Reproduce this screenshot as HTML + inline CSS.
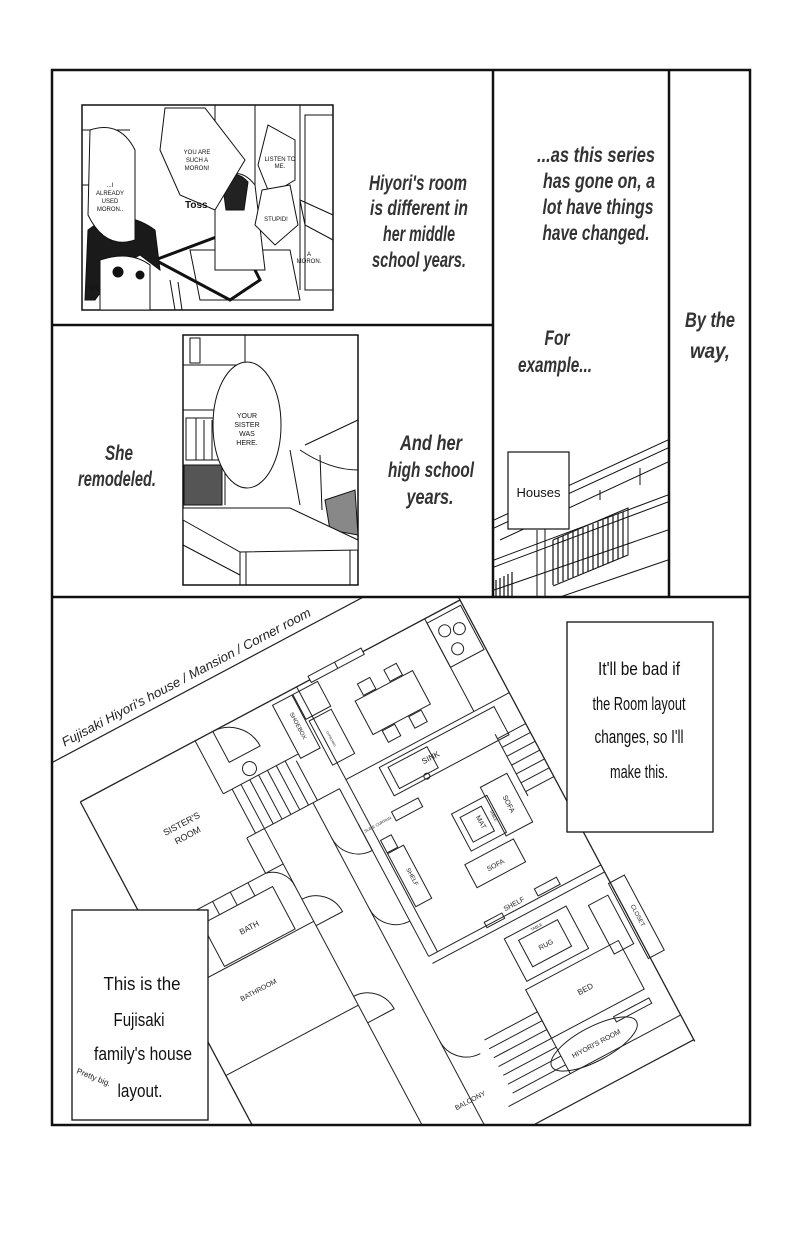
<!DOCTYPE html>
<html><head><meta charset="utf-8"><style>
html,body{margin:0;padding:0;background:#fff;width:800px;height:1243px;overflow:hidden}
svg{display:block}
.t{font-family:"Liberation Sans",sans-serif;font-style:italic;font-weight:bold;font-size:21px;fill:#333}
.h{font-family:"Liberation Sans",sans-serif;font-size:18px;fill:#111}
.s{font-family:"Liberation Sans",sans-serif;font-size:6px;fill:#111}
.p{font-family:"Liberation Sans",sans-serif;font-size:8px;fill:#222}
</style></head><body>
<svg width="800" height="1243" viewBox="0 0 800 1243" xmlns="http://www.w3.org/2000/svg">
<defs>
<clipPath id="bp"><rect x="53" y="598" width="696" height="526"/></clipPath>
<clipPath id="hp"><rect x="494" y="430" width="174" height="166"/></clipPath>
</defs>
<rect width="800" height="1243" fill="#fff"/>

<g stroke="#111" fill="none" stroke-width="1">
<rect x="82" y="105" width="251" height="205" stroke-width="1.5"/>
<line x1="82" y1="130" x2="130" y2="130"/>
<line x1="215" y1="105" x2="215" y2="250"/>
<line x1="255" y1="105" x2="255" y2="230"/>
<line x1="300" y1="105" x2="300" y2="290"/>
<rect x="305" y="115" width="28" height="175"/>
<line x1="82" y1="185" x2="130" y2="185"/>
<path d="M300 200 L333 215 L333 240 L305 225 Z"/>
<path d="M190 250 L290 250 L300 300 L200 300 Z"/>
<path d="M155 260 L235 230 L260 280 L230 300 Z" stroke-width="3"/>
<path d="M215 190 Q235 160 255 185 L265 270 L215 270 Z" fill="#fff"/>
<path d="M222 180 Q235 168 248 182 L244 210 L226 210 Z" fill="#222"/>
<path d="M88 230 Q120 205 155 230 L160 270 L140 255 L120 265 L95 300 L85 300 Z" fill="#1a1a1a"/>
<path d="M100 260 Q130 250 150 265 L150 310 L100 310 Z" fill="#fff"/>
<circle cx="118" cy="272" r="5" fill="#111"/>
<circle cx="140" cy="275" r="4" fill="#111"/>
<line x1="170" y1="280" x2="175" y2="310"/><line x1="178" y1="282" x2="182" y2="310"/>
<path d="M90 130 Q120 120 135 150 L135 240 Q105 250 88 215 Z" fill="#fff"/>
<path d="M165 108 L205 108 L245 160 L215 210 L180 195 L160 150 Z" fill="#fff"/>
<path d="M268 125 L295 140 L295 180 L270 195 L258 165 Z" fill="#fff"/>
<path d="M262 190 L290 185 L298 225 L275 245 L255 225 Z" fill="#fff"/>
</g>
<g class="s" text-anchor="middle">
<text x="197" y="154">YOU ARE</text><text x="197" y="162">SUCH A</text><text x="197" y="170">MORON!</text>
<text x="110" y="187">...I</text><text x="110" y="195">ALREADY</text><text x="110" y="203">USED</text><text x="110" y="211">MORON..</text>
<text x="280" y="161">LISTEN TO</text><text x="280" y="168">ME.</text>
<text x="276" y="221">STUPID!</text>
<text x="309" y="256">A</text><text x="309" y="263">MORON.</text>
<text x="95" y="290">OH..</text>
</g>
<text x="185" y="208" font-family="Liberation Sans,sans-serif" font-weight="bold" font-size="10" fill="#111">Toss</text>

<g stroke="#111" fill="none" stroke-width="1">
<rect x="183" y="335" width="175" height="250" stroke-width="1.5"/>
<line x1="183" y1="365" x2="245" y2="365"/><line x1="245" y1="335" x2="245" y2="365"/>
<rect x="190" y="338" width="10" height="25"/>
<line x1="183" y1="410" x2="225" y2="410"/>
<rect x="186" y="418" width="38" height="42"/>
<line x1="196" y1="418" x2="196" y2="460"/><line x1="204" y1="420" x2="204" y2="460"/><line x1="212" y1="420" x2="212" y2="460"/>
<rect x="184" y="465" width="38" height="40" fill="#555"/>
<line x1="225" y1="410" x2="225" y2="505"/>
<path d="M305 445 L358 420 M300 450 Q330 470 358 470 M290 450 L300 505 M320 455 L322 510"/>
<path d="M325 500 L355 490 L358 535 L330 530 Z" fill="#888"/>
<path d="M183 508 L290 508 L358 540 L358 550 L240 552 L183 520 Z" fill="#fff"/>
<line x1="240" y1="552" x2="240" y2="585"/><line x1="246" y1="552" x2="246" y2="585"/>
<line x1="350" y1="550" x2="350" y2="585"/>
<line x1="183" y1="545" x2="240" y2="575"/>
<ellipse cx="247" cy="425" rx="34" ry="63" fill="#fff"/>
</g>
<g class="s" text-anchor="middle" style="font-size:7px">
<text x="247" y="418">YOUR</text><text x="247" y="427">SISTER</text><text x="247" y="436">WAS</text><text x="247" y="445">HERE.</text>
</g>

<g clip-path="url(#hp)" stroke="#111" fill="none" stroke-width="1">
<path d="M494 520 L668 440 M494 528 L668 448 M500 540 L668 462"/>
<path d="M494 560 L668 495 M494 567 L668 502"/>
<path d="M494 590 L668 530 M560 597 L668 560"/>
<path d="M545 515 L545 597 M600 490 L600 500 M640 468 L640 485"/>
<g stroke-width="1.2">
<path d="M553 540 L553 585 M558 538 L558 583 M563 536 L563 581 M568 534 L568 579 M573 532 L573 577 M578 530 L578 575 M583 528 L583 573 M588 526 L588 571 M593 524 L593 569 M598 522 L598 567 M603 520 L603 565 M608 518 L608 563 M613 516 L613 561 M618 514 L618 559 M623 512 L623 557"/>
<path d="M496 580 L496 597 M500 578 L500 597 M504 576 L504 597 M508 574 L508 597 M512 572 L512 597"/>
</g>
<path d="M553 540 L628 508 L628 555 L553 586"/>
</g>
<line x1="537" y1="530" x2="537" y2="597" stroke="#111"/>
<rect x="508" y="452" width="61" height="77" fill="#fff" stroke="#111" stroke-width="1.2"/>
<text x="538.5" y="497" text-anchor="middle" class="h" style="font-size:13px">Houses</text>

<g class="t" text-anchor="middle">
<text x="418" y="190" textLength="98" lengthAdjust="spacingAndGlyphs">Hiyori's room</text>
<text x="419" y="215" textLength="98" lengthAdjust="spacingAndGlyphs">is different in</text>
<text x="419" y="241" textLength="72" lengthAdjust="spacingAndGlyphs">her middle</text>
<text x="419" y="267" textLength="94" lengthAdjust="spacingAndGlyphs">school years.</text>
<text x="596" y="162" textLength="118" lengthAdjust="spacingAndGlyphs">...as this series</text>
<text x="599" y="188" textLength="112" lengthAdjust="spacingAndGlyphs">has gone on, a</text>
<text x="598" y="214" textLength="111" lengthAdjust="spacingAndGlyphs">lot have things</text>
<text x="596" y="240" textLength="107" lengthAdjust="spacingAndGlyphs">have changed.</text>
<text x="557" y="345" textLength="25" lengthAdjust="spacingAndGlyphs">For</text>
<text x="555" y="372" textLength="74" lengthAdjust="spacingAndGlyphs">example...</text>
<text x="710" y="327" textLength="50" lengthAdjust="spacingAndGlyphs">By the</text>
<text x="710" y="358" textLength="40" lengthAdjust="spacingAndGlyphs">way,</text>
<text x="119" y="460" textLength="28" lengthAdjust="spacingAndGlyphs">She</text>
<text x="117" y="486" textLength="78" lengthAdjust="spacingAndGlyphs">remodeled.</text>
<text x="431" y="450" textLength="62" lengthAdjust="spacingAndGlyphs">And her</text>
<text x="431" y="477" textLength="86" lengthAdjust="spacingAndGlyphs">high school</text>
<text x="430" y="504" textLength="47" lengthAdjust="spacingAndGlyphs">years.</text>
</g>

<g clip-path="url(#bp)">
<g transform="translate(460,600) rotate(-28)" stroke="#222" fill="none" stroke-width="1">
<line x1="-470" y1="-48" x2="0" y2="-48" stroke-width="1.2"/>
<line x1="-430" y1="0" x2="0" y2="0" stroke-width="1.3"/>
<line x1="0" y1="-20" x2="0" y2="500" stroke-width="1.3"/>
<line x1="-430" y1="0" x2="-430" y2="600" stroke-width="1.3"/>
<line x1="0" y1="498" x2="-450" y2="498" stroke-width="1.2"/>
<rect x="-170" y="-4" width="60" height="7" fill="#fff"/>
<line x1="-140" y1="-4" x2="-140" y2="3"/>
<line x1="-40" y1="0" x2="-40" y2="105"/>
<rect x="-40" y="5" width="38" height="50"/>
<circle cx="-28" cy="20" r="6"/><circle cx="-14" cy="25" r="6"/><circle cx="-25" cy="42" r="6"/>
<rect x="-140" y="40" width="65" height="38"/>
<rect x="-130" y="26" width="14" height="13"/><rect x="-100" y="26" width="14" height="13"/>
<rect x="-130" y="79" width="14" height="13"/><rect x="-100" y="79" width="14" height="13"/>
<line x1="-185" y1="105" x2="0" y2="105"/>
<rect x="-150" y="110" width="130" height="32"/>
<rect x="-142" y="114" width="44" height="24"/>
<circle cx="-112" cy="140" r="3"/>
<line x1="-185" y1="0" x2="-185" y2="300"/>
<line x1="-195" y1="110" x2="-195" y2="300"/>
<rect x="-215" y="5" width="22" height="60"/>
<rect x="-192" y="5" width="28" height="28"/>
<rect x="-190" y="36" width="25" height="50"/>
<line x1="-300" y1="110" x2="-195" y2="110"/>
<path d="M-290 60 L-290 110 M-280 60 L-280 110 M-270 60 L-270 110 M-260 60 L-260 110 M-250 60 L-250 110 M-240 60 L-240 110 M-230 60 L-230 110 M-220 65 L-220 110"/>
<line x1="-300" y1="60" x2="-215" y2="60"/>
<path d="M-280 0 A35 35 0 0 1 -245 35 L-280 35 Z"/>
<circle cx="-265" cy="50" r="7"/>
<line x1="-300" y1="0" x2="-300" y2="60"/>
<line x1="-280" y1="110" x2="-280" y2="520"/>
<line x1="-225" y1="110" x2="-225" y2="520"/>
<path d="M-225 150 A30 30 0 0 0 -195 180 L-195 150"/>
<path d="M-280 190 A30 30 0 0 1 -250 220 L-280 220"/>
<path d="M-225 230 A30 30 0 0 0 -195 260"/>
<path d="M-280 300 A30 30 0 0 1 -250 330 L-280 330"/>
<path d="M-225 380 A30 30 0 0 0 -195 410"/>
<line x1="-430" y1="150" x2="-280" y2="150"/>
<line x1="-300" y1="110" x2="-300" y2="150"/>
<path d="M-380 150 L-380 165 M-360 150 L-360 165 M-340 150 L-340 165 M-320 150 L-320 165"/>
<path d="M-300 150 A25 25 0 0 1 -280 175"/>
<rect x="-380" y="165" width="80" height="48"/>
<line x1="-430" y1="215" x2="-280" y2="215"/>
<line x1="-430" y1="310" x2="-280" y2="310"/>
<line x1="-195" y1="300" x2="0" y2="300"/>
<line x1="-195" y1="308" x2="0" y2="308"/>
<rect x="-130" y="296" width="20" height="6"/>
<rect x="-70" y="290" width="25" height="8"/>
<rect x="-70" y="175" width="30" height="55"/>
<rect x="-108" y="185" width="40" height="42"/>
<rect x="-102" y="192" width="24" height="28"/>
<rect x="-120" y="236" width="55" height="26"/>
<rect x="-183" y="190" width="18" height="60"/>
<rect x="-183" y="175" width="12" height="14"/>
<path d="M-32 140 L0 140 M-32 150 L0 150 M-32 160 L0 160 M-32 170 L0 170 M-32 180 L0 180 M-32 190 L0 190 M-32 200 L0 200"/>
<line x1="-32" y1="135" x2="-32" y2="205"/>
<rect x="-160" y="155" width="30" height="10"/>
<rect x="-120" y="320" width="70" height="48"/>
<rect x="-108" y="328" width="44" height="30"/>
<rect x="-125" y="375" width="105" height="55"/>
<rect x="-30" y="330" width="22" height="55"/>
<rect x="-2" y="320" width="18" height="85"/>
<path d="M-185 400 L-125 400 M-185 410 L-125 410 M-185 420 L-125 420 M-185 430 L-125 430 M-185 440 L-125 440 M-185 450 L-125 450 M-185 460 L-125 460"/>
<line x1="-125" y1="395" x2="-125" y2="470"/>
<line x1="-195" y1="470" x2="0" y2="470"/>
<path d="M-60 440 L-20 440 L-20 446 L-60 446 Z"/>
<ellipse cx="-90" cy="455" rx="48" ry="17"/>
</g>
<g transform="translate(460,600) rotate(-28)" font-family="Liberation Sans,sans-serif" fill="#222" text-anchor="middle">
<text x="-418" y="-56" font-size="13" font-style="italic" text-anchor="start" textLength="280" lengthAdjust="spacingAndGlyphs">Fujisaki Hiyori's house / Mansion / Corner room</text>
<text x="-351" y="70" font-size="9">SISTER'S</text>
<text x="-351" y="83" font-size="9">ROOM</text>
<text x="-340" y="193" font-size="8">BATH</text>
<text x="-361" y="252" font-size="7">BATHROOM</text>
<text x="-226" y="449" font-size="7">BALCONY</text>
<text x="-88" y="458" font-size="7">HIYORI'S ROOM</text>
<text x="-72" y="405" font-size="8">BED</text>
<text x="-86" y="347" font-size="7">RUG</text>
<text x="-86" y="326" font-size="4">TABLE</text>
<text x="-95" y="296" font-size="7">SHELF</text>
<text x="-100" y="128" font-size="8">SINK</text>
<text x="-93" y="253" font-size="7">SOFA</text>
<text x="-178" y="161" font-size="4">SLIDE CURTAIN</text>
<g transform="translate(-204,35) rotate(90)"><text font-size="6">SHOEBOX</text></g>
<g transform="translate(-55,203) rotate(90)"><text font-size="7">SOFA</text></g>
<g transform="translate(-88,206) rotate(90)"><text font-size="7">MAT</text></g>
<g transform="translate(-73,206) rotate(90)"><text font-size="4">TABLE</text></g>
<g transform="translate(-174,222) rotate(90)"><text font-size="6">SHELF</text></g>
<g transform="translate(7,362) rotate(90)"><text font-size="6">CLOSET</text></g>
<g transform="translate(-180,62) rotate(90)"><text font-size="3">CUPBOARD</text></g>
</g>
</g>

<rect x="567" y="622" width="146" height="210" fill="#fff" stroke="#111" stroke-width="1.3"/>
<g class="h" text-anchor="middle">
<text x="639" y="675" textLength="82" lengthAdjust="spacingAndGlyphs">It'll be bad if</text>
<text x="639" y="710" textLength="93" lengthAdjust="spacingAndGlyphs">the Room layout</text>
<text x="639" y="743" textLength="89" lengthAdjust="spacingAndGlyphs">changes, so I'll</text>
<text x="639" y="778" textLength="58" lengthAdjust="spacingAndGlyphs">make this.</text>
</g>
<rect x="72" y="910" width="136" height="210" fill="#fff" stroke="#111" stroke-width="1.3"/>
<g class="h" text-anchor="middle">
<text x="142" y="990" textLength="77" lengthAdjust="spacingAndGlyphs">This is the</text>
<text x="139" y="1026" textLength="51" lengthAdjust="spacingAndGlyphs">Fujisaki</text>
<text x="143" y="1060" textLength="98" lengthAdjust="spacingAndGlyphs">family's house</text>
<text x="140" y="1097" textLength="45" lengthAdjust="spacingAndGlyphs">layout.</text>
</g>
<text x="0" y="0" class="p" transform="translate(76,1073) rotate(22)">Pretty big.</text>

<g stroke="#111" fill="none" stroke-width="2.5">
<rect x="52" y="70" width="698" height="1055"/>
<line x1="493" y1="70" x2="493" y2="597"/>
<line x1="669" y1="70" x2="669" y2="597"/>
<line x1="52" y1="325" x2="493" y2="325"/>
<line x1="52" y1="597" x2="750" y2="597"/>
</g>
</svg>
</body></html>
